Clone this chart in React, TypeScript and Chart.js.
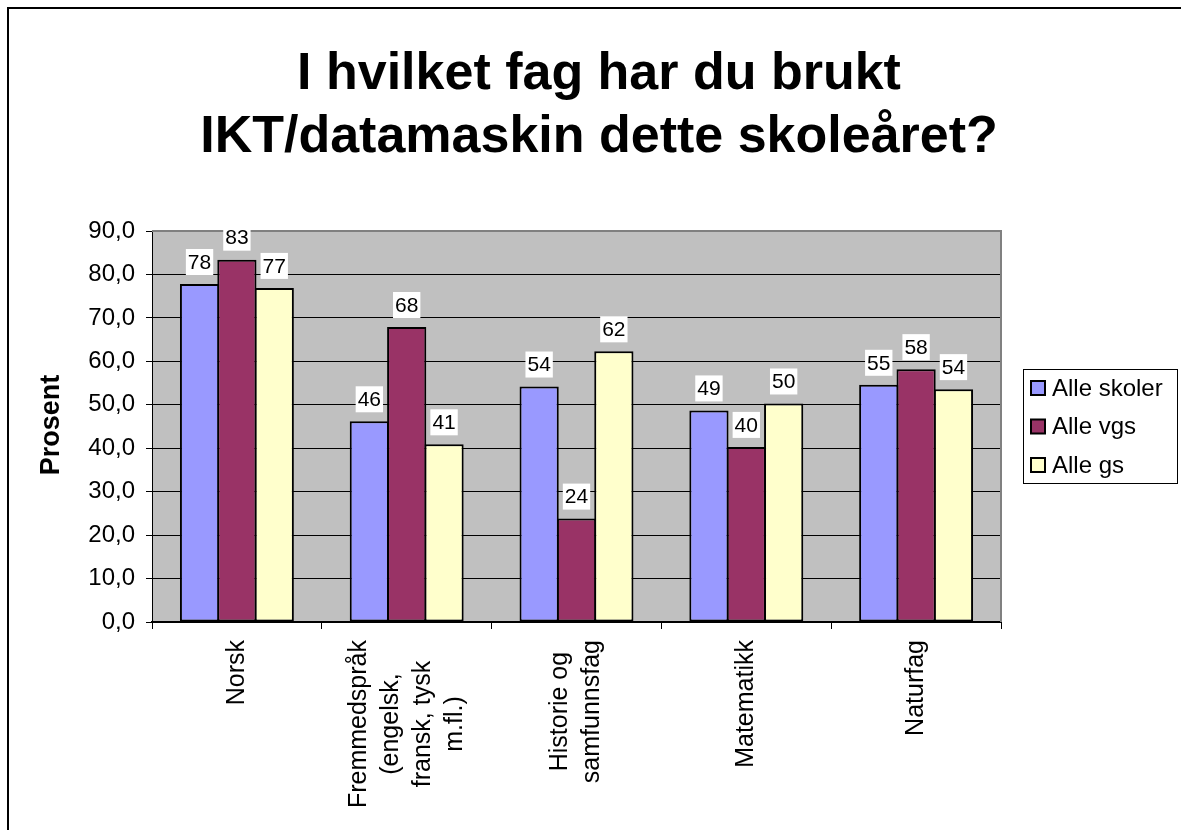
import React, { useEffect, useRef } from "react";
import { Chart, registerables } from "chart.js";

Chart.register(...registerables);

// ---- data ----
const categoryLines: string[][] = [
  ["Norsk"],
  ["Fremmedspråk", "(engelsk,", "fransk, tysk", "m.fl.)"],
  ["Historie og", "samfunnsfag"],
  ["Matematikk"],
  ["Naturfag"],
];
const seriesNames = ["Alle skoler", "Alle vgs", "Alle gs"];
const alleSkoler = [77.8, 46.2, 54.2, 48.7, 54.6];
const alleVgs = [83.4, 67.9, 23.8, 40.3, 58.2];
const alleGs = [76.9, 40.9, 62.3, 50.3, 53.6];
const seriesColors = ["#9999FF", "#993366", "#FFFFCC"];
const yMin = 0;
const yMax = 90;
const yStep = 10;
const titleLines = ["I hvilket fag har du brukt", "IKT/datamaskin dette skoleåret?"];
const yAxisTitle = "Prosent";

const FONT = "'Liberation Sans', Arial, Helvetica, sans-serif";

const customPlugin = {
  id: "customDraw",
  beforeDraw(chart: any) {
    const { ctx, chartArea: a } = chart;
    ctx.save();
    ctx.fillStyle = "#ffffff";
    ctx.fillRect(0, 0, chart.width, chart.height);
    ctx.fillStyle = "#C0C0C0";
    ctx.fillRect(a.left, a.top, a.right - a.left, a.bottom - a.top);
    ctx.restore();
  },
  afterDatasetsDraw(chart: any) {
    const { ctx, chartArea: a } = chart;
    ctx.save();
    // plot area border (top & right)
    ctx.strokeStyle = "#808080";
    ctx.lineWidth = 2;
    ctx.beginPath();
    ctx.moveTo(a.left, a.top);
    ctx.lineTo(a.right, a.top);
    ctx.lineTo(a.right, a.bottom);
    ctx.stroke();

    // data labels
    ctx.font = `21px ${FONT}`;
    ctx.textAlign = "center";
    ctx.textBaseline = "middle";
    chart.data.datasets.forEach((ds: any, di: number) => {
      const meta = chart.getDatasetMeta(di);
      meta.data.forEach((bar: any, i: number) => {
        const txt = String(Math.round(ds.data[i]));
        const w = ctx.measureText(txt).width + 4;
        const h = 26;
        const bottom = bar.y - 9;
        ctx.fillStyle = "#ffffff";
        ctx.fillRect(bar.x - w / 2, bottom - h, w, h);
        ctx.fillStyle = "#000000";
        ctx.fillText(txt, bar.x, bottom - h / 2 + 1);
      });
    });
    ctx.restore();
  },
  afterDraw(chart: any) {
    const { ctx, chartArea: a } = chart;
    const xScale = chart.scales.x;
    ctx.save();

    // title
    ctx.fillStyle = "#000000";
    ctx.font = `bold 52px ${FONT}`;
    ctx.textAlign = "center";
    ctx.textBaseline = "alphabetic";
    ctx.fillText(titleLines[0], 599, 89);
    ctx.fillText(titleLines[1], 599, 152);

    // y axis title
    ctx.save();
    ctx.font = `bold 27px ${FONT}`;
    ctx.textAlign = "center";
    ctx.textBaseline = "middle";
    ctx.translate(52, 425);
    ctx.rotate(-Math.PI / 2);
    ctx.fillText(yAxisTitle, 0, 0);
    ctx.restore();

    // category labels (rotated, centered lines)
    ctx.font = `25px ${FONT}`;
    ctx.textBaseline = "middle";
    ctx.textAlign = "center";
    const lineH = 32;
    categoryLines.forEach((lines, i) => {
      const cx = xScale.getPixelForValue(i);
      const top = a.bottom + 18;
      const maxLen = Math.max(...lines.map((l) => ctx.measureText(l).width));
      ctx.save();
      ctx.translate(cx, top);
      ctx.rotate(-Math.PI / 2);
      lines.forEach((l, k) => {
        ctx.fillText(l, -maxLen / 2, (k - (lines.length - 1) / 2) * lineH);
      });
      ctx.restore();
    });

    // legend
    const lx = 1023, ly = 369, lw = 154, lh = 114;
    ctx.fillStyle = "#ffffff";
    ctx.fillRect(lx, ly, lw, lh);
    ctx.strokeStyle = "#000000";
    ctx.lineWidth = 1;
    ctx.strokeRect(lx + 0.5, ly + 0.5, lw, lh);
    ctx.font = `24px ${FONT}`;
    ctx.textAlign = "left";
    ctx.textBaseline = "middle";
    seriesNames.forEach((name, k) => {
      const cy = 388 + k * 38.5;
      ctx.fillStyle = seriesColors[k];
      ctx.fillRect(1031, cy - 7, 14, 14);
      ctx.strokeStyle = "#000000";
      ctx.lineWidth = 2;
      ctx.strokeRect(1031, cy - 7, 14, 14);
      ctx.fillStyle = "#000000";
      ctx.fillText(name, 1052, cy + 1);
    });

    // outer frame
    ctx.fillStyle = "#000000";
    ctx.fillRect(7, 7, 2, chart.height - 7);
    ctx.fillRect(7, 7, chart.width - 7, 2);
    ctx.restore();
  },
};

export default function App() {
  const canvasRef = useRef<HTMLCanvasElement | null>(null);

  useEffect(() => {
    if (!canvasRef.current) return;
    const seriesData = [alleSkoler, alleVgs, alleGs];
    const chart = new Chart(canvasRef.current, {
      type: "bar",
      data: {
        labels: categoryLines.map((l) => l.join(" ")),
        datasets: seriesNames.map((name, k) => ({
          label: name,
          data: seriesData[k],
          backgroundColor: seriesColors[k],
          borderColor: "#000000",
          borderWidth: 2,
          borderSkipped: false,
          categoryPercentage: 0.66,
          barPercentage: 1.05,
        })),
      },
      options: {
        responsive: false,
        animation: false,
        devicePixelRatio: 1,
        layout: { padding: { left: 37, right: 180, top: 231, bottom: 208 } },
        plugins: {
          legend: { display: false },
          title: { display: false },
          tooltip: { enabled: false },
        },
        scales: {
          x: {
            offset: true,
            grid: {
              offset: true,
              drawOnChartArea: false,
              drawTicks: true,
              tickLength: 7,
              color: "#000000",
              lineWidth: 1,
            },
            border: { display: true, color: "#000000", width: 2 },
            ticks: { display: false },
            afterFit: (s: any) => {
              s.height = 0;
            },
          },
          y: {
            min: yMin,
            max: yMax,
            ticks: {
              stepSize: yStep,
              color: "#000000",
              padding: 11,
              font: { family: FONT, size: 24 },
              callback: (v: any) => Number(v).toFixed(1).replace(".", ","),
            },
            grid: { color: "#000000", lineWidth: 1, tickLength: 6 },
            border: { display: true, color: "#000000", width: 1 },
            afterFit: (s: any) => {
              s.width = 115;
            },
          },
        },
      },
      plugins: [customPlugin],
    } as any);
    return () => chart.destroy();
  }, []);

  return (
    <div style={{ position: "absolute", left: 0, top: 0, width: 1181, height: 830, background: "#fff" }}>
      <canvas ref={canvasRef} width={1181} height={830} style={{ display: "block" }} />
    </div>
  );
}
